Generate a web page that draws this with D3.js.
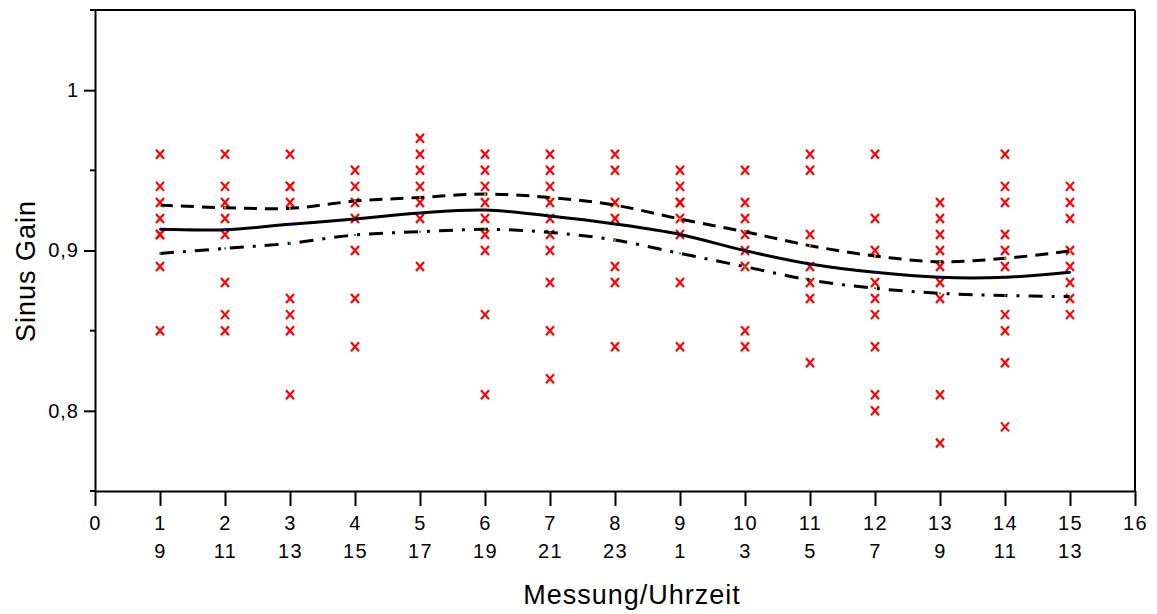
<!DOCTYPE html>
<html>
<head>
<meta charset="utf-8">
<script src="https://cdn.jsdelivr.net/npm/d3@7"></script>
<style>
  body { margin: 0; background: #fff; }
  svg text { font-family: "Liberation Sans", Arial, Helvetica, sans-serif; fill: #000; }
</style>
</head>
<body>
<div id="chart"></div>
<script>
// Messung 1..15, Uhrzeit darunter
var messungen = [1, 2, 3, 4, 5, 6, 7, 8, 9, 10, 11, 12, 13, 14, 15];
var uhrzeiten = [9, 11, 13, 15, 17, 19, 21, 23, 1, 3, 5, 7, 9, 11, 13];

// Einzelwerte je Messung (rote Kreuze)
var einzelwerte = [
  [0.96, 0.94, 0.93, 0.92, 0.91, 0.91, 0.89, 0.85],
  [0.96, 0.94, 0.93, 0.92, 0.91, 0.88, 0.86, 0.85],
  [0.96, 0.94, 0.94, 0.93, 0.87, 0.86, 0.85, 0.81],
  [0.95, 0.94, 0.93, 0.92, 0.90, 0.87, 0.84],
  [0.97, 0.96, 0.95, 0.94, 0.93, 0.92, 0.89],
  [0.96, 0.95, 0.94, 0.93, 0.92, 0.91, 0.90, 0.86, 0.81],
  [0.96, 0.95, 0.94, 0.93, 0.92, 0.91, 0.90, 0.88, 0.85, 0.82],
  [0.96, 0.95, 0.93, 0.92, 0.89, 0.88, 0.84],
  [0.95, 0.94, 0.93, 0.93, 0.92, 0.91, 0.88, 0.84],
  [0.95, 0.93, 0.92, 0.91, 0.90, 0.89, 0.85, 0.84],
  [0.96, 0.95, 0.91, 0.89, 0.88, 0.87, 0.83],
  [0.96, 0.92, 0.90, 0.88, 0.87, 0.86, 0.84, 0.81, 0.80],
  [0.93, 0.92, 0.91, 0.90, 0.89, 0.88, 0.87, 0.81, 0.78],
  [0.96, 0.94, 0.93, 0.91, 0.90, 0.89, 0.86, 0.85, 0.83, 0.79],
  [0.94, 0.93, 0.92, 0.90, 0.89, 0.88, 0.87, 0.86]
];

// Mittelwert und Grenzen
var mittelwert = [0.9132, 0.913, 0.9163, 0.9196, 0.9234, 0.9252, 0.9215, 0.9165, 0.910, 0.8999, 0.8916, 0.8864, 0.8833, 0.8833, 0.8864];
var obereGrenze = [0.9283, 0.9267, 0.9263, 0.9308, 0.9331, 0.9352, 0.9331, 0.9283, 0.9196, 0.9117, 0.903, 0.8966, 0.893, 0.8951, 0.8997];
var untereGrenze = [0.8982, 0.9013, 0.9045, 0.9097, 0.9117, 0.9132, 0.9113, 0.9065, 0.8982, 0.8899, 0.8816, 0.8764, 0.8733, 0.8719, 0.8712];

var xTicks = d3.range(0, 17);
var yMajor = [0.8, 0.9, 1.0];
var yMinor = [0.75, 0.85, 0.95, 1.05];

var breite = 1157, hoehe = 614;
var rLinks = 95, rRechts = 1135, rOben = 10, rUnten = 491;

var x = d3.scaleLinear().domain([0, 16]).range([rLinks, rRechts]);
var y = d3.scaleLinear().domain([0.75, 1.05]).range([rUnten, rOben]);

var svg = d3.select("#chart").append("svg")
    .attr("width", breite)
    .attr("height", hoehe);

// Rahmen oben/rechts
svg.append("line")
    .attr("x1", rLinks).attr("x2", rRechts).attr("y1", rOben).attr("y2", rOben)
    .attr("stroke", "#000").attr("stroke-width", 2);
svg.append("line")
    .attr("x1", rRechts).attr("x2", rRechts).attr("y1", rOben).attr("y2", rUnten)
    .attr("stroke", "#000").attr("stroke-width", 2);

// X-Achse
var xAxis = svg.append("g")
    .attr("transform", "translate(0," + rUnten + ")")
    .call(d3.axisBottom(x).tickValues(xTicks).tickSize(15).tickSizeOuter(0).tickFormat(""));
xAxis.select(".domain").attr("stroke-width", 2);
xAxis.selectAll(".tick line").attr("stroke-width", 2);

xAxis.selectAll(".tick").each(function(d) {
    var g = d3.select(this);
    g.append("text")
        .attr("y", 39)
        .attr("text-anchor", "middle")
        .attr("font-size", "20px")
        .attr("letter-spacing", "1.5px")
        .text(d);
    var i = messungen.indexOf(d);
    if (i >= 0) {
        g.append("text")
            .attr("y", 67)
            .attr("text-anchor", "middle")
            .attr("font-size", "20px")
            .attr("letter-spacing", "1.5px")
            .text(uhrzeiten[i]);
    }
});

// Y-Achse
var yAxis = svg.append("g")
    .attr("transform", "translate(" + rLinks + ",0)")
    .call(d3.axisLeft(y).tickValues(yMajor).tickSize(11).tickSizeOuter(0)
        .tickFormat(function(d) { return d === 1 ? "1" : d3.format(".1f")(d).replace(".", ","); }));
yAxis.select(".domain").attr("stroke-width", 2);
yAxis.selectAll(".tick line").attr("stroke-width", 2);
yAxis.selectAll(".tick text")
    .attr("font-size", "20px")
    .attr("letter-spacing", "1px")
    .attr("x", -16)
    .attr("font-family", "Liberation Sans, Arial, sans-serif");

svg.append("g").selectAll("line")
    .data(yMinor)
    .enter().append("line")
    .attr("x1", rLinks - 5).attr("x2", rLinks)
    .attr("y1", function(d) { return y(d); })
    .attr("y2", function(d) { return y(d); })
    .attr("stroke", "#000").attr("stroke-width", 2);

// Achsentitel
svg.append("text")
    .attr("x", 632).attr("y", 604)
    .attr("text-anchor", "middle")
    .attr("font-size", "27px")
    .attr("letter-spacing", "1px")
    .text("Messung/Uhrzeit");

svg.append("text")
    .attr("transform", "translate(35,271) rotate(-90)")
    .attr("text-anchor", "middle")
    .attr("font-size", "27px")
    .attr("letter-spacing", "1px")
    .text("Sinus Gain");

// Einzelwerte als rote Kreuze
var punkte = [];
einzelwerte.forEach(function(werte, i) {
    werte.forEach(function(v) { punkte.push({m: messungen[i], v: v}); });
});

svg.append("g").selectAll("path")
    .data(punkte)
    .enter().append("path")
    .attr("d", function(d) {
        var cx = x(d.m), cy = y(d.v), rx = 4, ry = 4.5;
        return "M" + (cx - rx) + "," + (cy - ry) + "L" + (cx + rx) + "," + (cy + ry) +
               "M" + (cx + rx) + "," + (cy - ry) + "L" + (cx - rx) + "," + (cy + ry);
    })
    .attr("stroke", "#ff0000")
    .attr("stroke-width", 2.2)
    .attr("fill", "none");

// Kurven
var linie = d3.line()
    .x(function(d, i) { return x(messungen[i]); })
    .y(function(d) { return y(d); })
    .curve(d3.curveCatmullRom.alpha(0.5));

var kurven = [
    {werte: obereGrenze, dash: "13,8", farbe: "#ff8000"},
    {werte: untereGrenze, dash: "14,9,3,9", farbe: "#00c000"},
    {werte: mittelwert, dash: null, farbe: "#0000ff"}
];

kurven.forEach(function(k) {
    svg.append("path")
        .datum(k.werte)
        .attr("d", linie)
        .attr("fill", "none")
        .attr("stroke", "#000")
        .attr("stroke-width", 3)
        .attr("stroke-dasharray", k.dash);
    svg.append("g").selectAll("rect")
        .data(k.werte)
        .enter().append("rect")
        .attr("x", function(d, i) { return x(messungen[i]) - 1; })
        .attr("y", function(d) { return y(d) - 1; })
        .attr("width", 2).attr("height", 2)
        .attr("fill", k.farbe);
});
</script>
</body>
</html>
